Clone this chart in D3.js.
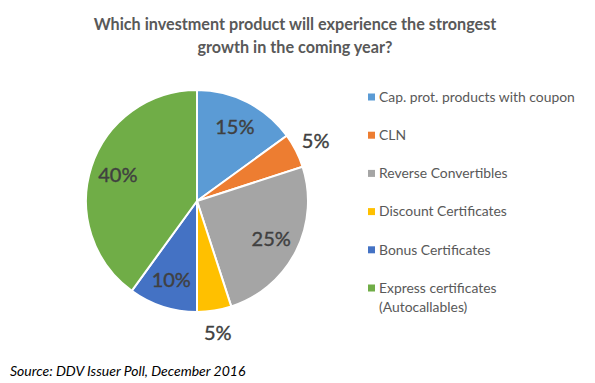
<!DOCTYPE html>
<html>
<head>
<meta charset="utf-8">
<script src="https://cdn.jsdelivr.net/npm/d3@7"></script>
<style>
  body { margin: 0; background: #fff; }
  svg { font-family: Lato, "Open Sans", sans-serif; }
</style>
</head>
<body>
<svg id="chart" width="595" height="383"></svg>
<script>
var categories = ["Cap. prot. products with coupon", "CLN", "Reverse Convertibles",
    "Discount Certificates", "Bonus Certificates", "Express certificates (Autocallables)"];
var shares = [15, 5, 25, 5, 10, 40];
var colors = ["#5b9bd5", "#ed7d31", "#a5a5a5", "#ffc000", "#4472c4", "#70ad47"];
// small slices get their label outside the pie
var outside = [false, true, false, true, false, false];
var legendLines = [["Cap. prot. products with coupon"], ["CLN"], ["Reverse Convertibles"],
    ["Discount Certificates"], ["Bonus Certificates"], ["Express certificates", "(Autocallables)"]];

var svg = d3.select("#chart");

// title
svg.append("text")
    .attr("x", 295)
    .attr("y", 30)
    .attr("text-anchor", "middle")
    .style("font-weight", "bold")
    .style("font-size", "16.2px")
    .style("fill", "#595959")
    .selectAll("tspan")
    .data(["Which investment product will experience the strongest", "growth in the coming year?"])
    .enter()
    .append("tspan")
    .attr("x", 295)
    .attr("dy", function (d, i) { return i === 0 ? 0 : 23; })
    .text(function (d) { return d; });

var data = categories.map(function (c, i) { return { category: c, value: shares[i], out: outside[i] }; });

var radius = 111;
var g = svg.append("g")
    .attr("transform", "translate(197,201)");

var color = d3.scaleOrdinal().domain(categories).range(colors);

var pie = d3.pie()
    .value(function (d) { return d.value; })
    .sort(null);

var arc = d3.arc().innerRadius(0).outerRadius(radius);
var labelArc = d3.arc().innerRadius(radius * 0.75).outerRadius(radius * 0.75);
var outerArc = d3.arc().innerRadius(radius * 1.2).outerRadius(radius * 1.2);

var arcs = pie(data);

g.selectAll("path")
    .data(arcs)
    .enter()
    .append("path")
    .attr("d", arc)
    .attr("fill", function (d) { return color(d.data.category); })
    .attr("stroke", "#fff")
    .attr("stroke-width", 2);

g.selectAll("text.pct")
    .data(arcs)
    .enter()
    .append("text")
    .attr("class", "pct")
    .attr("transform", function (d) {
        var c = d.data.out ? outerArc.centroid(d) : labelArc.centroid(d);
        return "translate(" + c + ")";
    })
    .attr("dy", ".35em")
    .attr("text-anchor", "middle")
    .style("font-size", "20px")
    .style("fill", "#404040")
    .style("stroke", "#404040")
    .style("stroke-width", 0.4)
    .text(function (d) { return d.data.value + "%"; });

// legend
var legendY = d3.scalePoint().domain(categories).range([97, 288]);

var legend = svg.selectAll("g.legend")
    .data(categories)
    .enter()
    .append("g")
    .attr("class", "legend")
    .attr("transform", function (d) { return "translate(368," + legendY(d) + ")"; });

legend.append("rect")
    .attr("x", 0)
    .attr("y", -3.5)
    .attr("width", 7)
    .attr("height", 7)
    .attr("fill", function (d) { return color(d); });

legend.append("text")
    .attr("x", 11)
    .attr("y", 0)
    .style("font-size", "13.9px")
    .style("fill", "#595959")
    .selectAll("tspan")
    .data(function (d, i) { return legendLines[i]; })
    .enter()
    .append("tspan")
    .attr("x", 11)
    .attr("dy", function (d, i) { return i === 0 ? "0.35em" : "19px"; })
    .text(function (d) { return d; });

// source
svg.append("text")
    .attr("x", 10)
    .attr("y", 376)
    .style("font-size", "14px")
    .style("font-style", "italic")
    .style("fill", "#000")
    .text("Source: DDV Issuer Poll, December 2016");
</script>
</body>
</html>
